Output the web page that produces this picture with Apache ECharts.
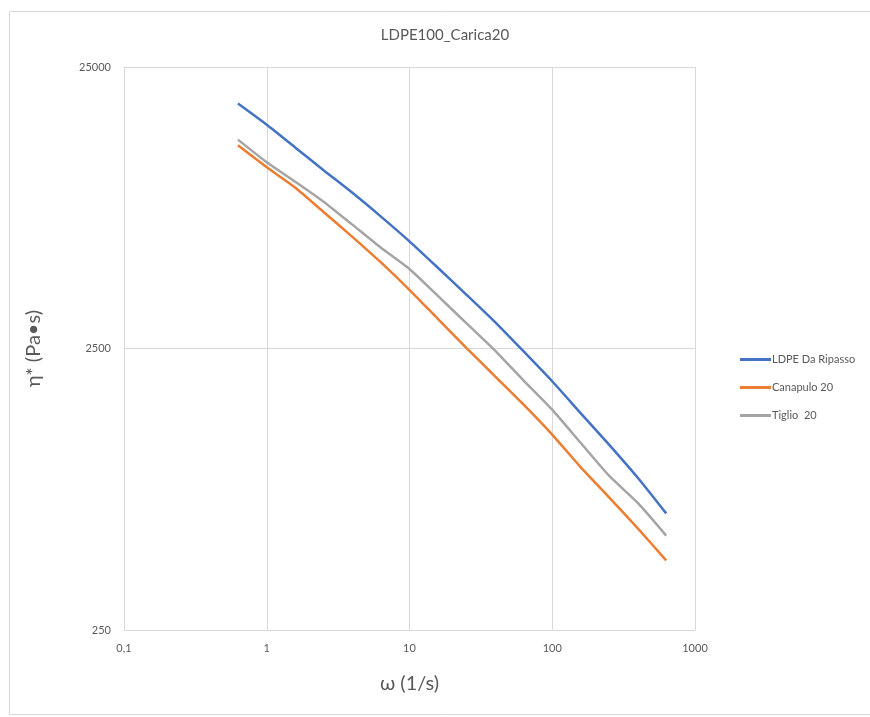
<!DOCTYPE html>
<html>
<head>
<meta charset="utf-8">
<title>LDPE100_Carica20</title>
<script src="https://cdn.jsdelivr.net/npm/echarts@6/dist/echarts.min.js"></script>
<style>
  html, body { margin: 0; padding: 0; background: #ffffff; }
  #chart { width: 870px; height: 717px; }
</style>
</head>
<body>
<div id="chart"></div>
<script>
// Angular frequency ω (1/s) of the sweep
const omega = [0.628, 0.995, 1.58, 2.5, 3.96, 6.28, 9.95, 15.8, 25, 39.6, 62.8, 99.5, 158, 250, 396, 628];

// Complex viscosity η* (Pa·s)
const ldpeDaRipasso = [18530, 15610, 12950, 10750, 8950, 7370, 6020, 4840, 3886, 3108, 2445, 1916, 1474, 1139, 870, 649];
const canapulo20    = [13170, 11030, 9330, 7635, 6244, 5064, 4050, 3185, 2514, 1995, 1582, 1239, 948, 740, 575, 442];
const tiglio20      = [13800, 11490, 9790, 8310, 6900, 5710, 4800, 3844, 3077, 2463, 1927, 1520, 1156, 883, 708, 541];

const seriesNames = ['LDPE Da Ripasso', 'Canapulo 20', 'Tiglio  20'];
const seriesColors = ['#4472C4', '#ED7D31', '#A5A5A5'];

// Axis ticks
const xTicks = [0.1, 1, 10, 100, 1000];
const yTicks = [250, 2500, 25000];

const font = 'Lato, "Open Sans", "Liberation Sans", sans-serif';
const gridColor = '#d9d9d9';
const textColor = '#595959';

function pairs(xs, ys) {
  return xs.map((x, i) => [x, ys[i]]);
}

function lineSeries(name, values, color) {
  return {
    name: name,
    type: 'line',
    data: pairs(omega, values),
    symbol: 'none',
    smooth: 0.2,
    lineStyle: { color: color, width: 2.5 },
    itemStyle: { color: color },
    z: 3
  };
}

const chart = echarts.init(document.getElementById('chart'), null, { renderer: 'canvas' });

chart.setOption({
  backgroundColor: '#ffffff',
  animation: false,
  title: {
    text: 'LDPE100_Carica20',
    left: 440,
    textAlign: 'center',
    top: 23,
    textStyle: { fontFamily: font, fontSize: 15, fontWeight: 'normal', color: textColor }
  },
  graphic: [{
    type: 'rect',
    left: 7, top: 9,
    shape: { width: 880, height: 703 },
    style: { fill: 'none', stroke: gridColor, lineWidth: 1 },
    silent: true,
    z: -10
  }],
  legend: {
    orient: 'vertical',
    left: 735,
    top: 349,
    itemWidth: 31,
    itemHeight: 3,
    itemGap: 17,
    icon: 'rect',
    data: seriesNames,
    textStyle: { fontFamily: font, fontSize: 11, color: textColor, padding: [0, 0, 0, -4] }
  },
  grid: { left: 124, right: 175, top: 67, bottom: 87, containLabel: false },
  xAxis: {
    type: 'log',
    logBase: 10,
    min: 0.1,
    max: 1000,
    name: 'ω (1/s)',
    nameLocation: 'middle',
    nameGap: 44,
    nameTextStyle: { fontFamily: font, fontSize: 20, color: textColor },
    axisLine: { show: true, lineStyle: { color: gridColor, width: 1 } },
    axisTick: { show: false, customValues: xTicks },
    axisLabel: {
      customValues: xTicks,
      fontFamily: font, fontSize: 11, color: textColor, margin: 13,
      formatter: v => String(+v.toPrecision(6)).replace('.', ',')
    },
    splitLine: { show: true, lineStyle: { color: gridColor, width: 1 } }
  },
  yAxis: {
    type: 'log',
    logBase: 10,
    min: 250,
    max: 25000,
    name: 'η* (Pa•s)',
    nameLocation: 'middle',
    nameGap: 80,
    nameTextStyle: { fontFamily: font, fontSize: 20, color: textColor },
    axisLine: { show: true, lineStyle: { color: gridColor, width: 1 } },
    axisTick: { show: false, customValues: yTicks },
    axisLabel: {
      customValues: yTicks,
      fontFamily: font, fontSize: 11, color: textColor, margin: 13,
      formatter: v => String(Math.round(v))
    },
    splitLine: { show: true, lineStyle: { color: gridColor, width: 1 } }
  },
  series: [
    lineSeries(seriesNames[0], ldpeDaRipasso, seriesColors[0]),
    lineSeries(seriesNames[1], canapulo20, seriesColors[1]),
    lineSeries(seriesNames[2], tiglio20, seriesColors[2])
  ]
});
</script>
</body>
</html>
